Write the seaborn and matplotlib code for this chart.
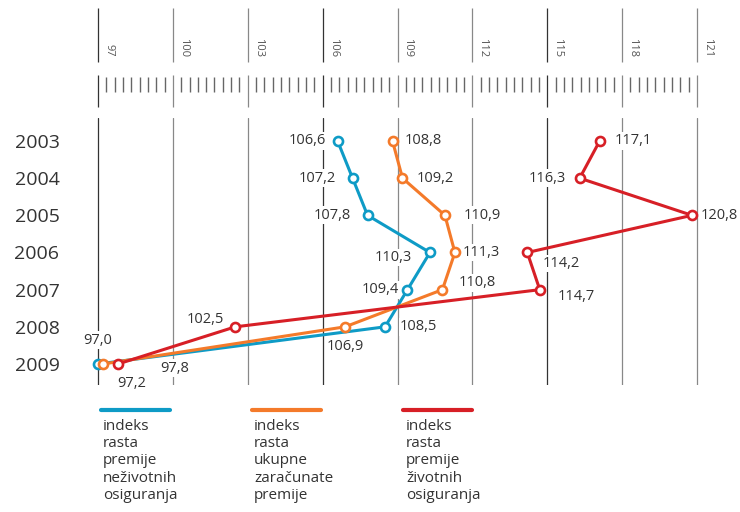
import numpy as np
import pandas as pd
import matplotlib
matplotlib.use('Agg')
import matplotlib.pyplot as plt
import seaborn as sns

years = [2003, 2004, 2005, 2006, 2007, 2008, 2009]
nezivotna = [106.6, 107.2, 107.8, 110.3, 109.4, 108.5, 97.0]
ukupna = [108.8, 109.2, 110.9, 111.3, 110.8, 106.9, 97.2]
zivotna = [117.1, 116.3, 120.8, 114.2, 114.7, 102.5, 97.8]
major_ticks = [97, 100, 103, 106, 109, 112, 115, 118, 121]
legend_labels = ['indeks\nrasta\npremije\nneživotnih\nosiguranja',
                 'indeks\nrasta\nukupne\nzaračunate\npremije',
                 'indeks\nrasta\npremije\nživotnih\nosiguranja']
colors = ['#0e9bc6', '#f47a2a', '#d71f26']

# label offsets in pixels (dx, dy downwards, ha)
offs = [
    [(-12, 0, 'right'), (-17, 0, 'right'), (-17, 0, 'right'), (-18, 5, 'right'),
     (-9, 0, 'right'), (15, 0, 'left'), (0, -24, 'center')],
    [(12, 0, 'left'), (14, 0, 'left'), (19, 0, 'left'), (8, 0, 'left'),
     (16, -7, 'left'), (0, 20, 'center'), (29, 19, 'center')],
    [(15, 0, 'left'), (-14, 0, 'right'), (9, 0, 'left'), (15, 11, 'left'),
     (18, 7, 'left'), (-11, -7, 'right'), (57, 4, 'center')],
]

sns.set_style('white')
plt.rcParams['font.family'] = ['Open Sans', 'DejaVu Sans']
txt_col = '#333333'

W, H = 740, 512
fig = plt.figure(figsize=(W / 100, H / 100), dpi=100)

S = (697 - 98) / 24.0
xlo = 97 - 8 / S
xhi = 97 + (735 - 98) / S

ax = fig.add_axes([90 / W, (H - 385) / H, (735 - 90) / W, (385 - 118) / H])
ax.set_xlim(xlo, xhi)
ax.set_ylim(2009 + 21 / 37.17, 2003 - 23 / 37.17)
for i, t in enumerate(major_ticks):
    ax.axvline(t, color='#333333' if i % 3 == 0 else '#888888', lw=0.9, zorder=0)

series = [nezivotna, ukupna, zivotna]
for vals, col, off in zip(series, colors, offs):
    sns.lineplot(x=vals, y=years, orient='y', ax=ax, color=col, lw=2.2,
                 marker='o', markersize=6.5, markerfacecolor='white',
                 markeredgecolor=col, markeredgewidth=1.9, zorder=3)
    for v, y, (dx, dy, ha) in zip(vals, years, off):
        ax.annotate(f'{v:.1f}'.replace('.', ','), (v, y), xytext=(dx, -dy),
                    textcoords='offset pixels', ha=ha, va='center',
                    fontsize=10.5, color=txt_col, zorder=2,
                    bbox=dict(boxstyle='square,pad=0.1', fc='white', ec='none'))

ax.set_xticks([])
ax.set_yticks(years)
ax.set_yticklabels([str(y) for y in years], fontsize=14, color=txt_col)
ax.tick_params(axis='y', length=0, pad=22)
ax.set_xlabel('')
ax.set_ylabel('')
for s in ax.spines.values():
    s.set_visible(False)

# ruler on top
axt = fig.add_axes([90 / W, (H - 110) / H, (735 - 90) / W, 105 / H])
axt.set_xlim(xlo, xhi)
axt.set_ylim(110, 5)
axt.axis('off')
for i, t in enumerate(major_ticks):
    c = '#333333' if i % 3 == 0 else '#888888'
    axt.vlines(t, 8, 62, color=c, lw=0.9)
    axt.vlines(t, 75, 107, color=c, lw=0.9)
    axt.text(t + 5 / S, 57, str(t), rotation=270, rotation_mode='anchor',
             ha='right', va='bottom', fontsize=8, color='#555555')
minor = [t + k / 3 for t in major_ticks[:-1] for k in (1, 2, 3, 4, 5, 6, 7, 8)]
axt.vlines(minor, 77, 92, color='#666666', lw=1.0)

# legend
for i, (col, lab) in enumerate(zip(colors, legend_labels)):
    x0 = [101, 252, 403][i]
    tx = [103, 254, 406][i]
    fig.add_artist(plt.Line2D([x0 / W, (x0 + 69) / W], [1 - 410 / H, 1 - 410 / H],
                              color=col, lw=3))
    fig.text(tx / W, 1 - 419 / H, lab, ha='left', va='top', fontsize=11,
             color=txt_col, linespacing=1.2)

fig.savefig('out.png', dpi=100)
